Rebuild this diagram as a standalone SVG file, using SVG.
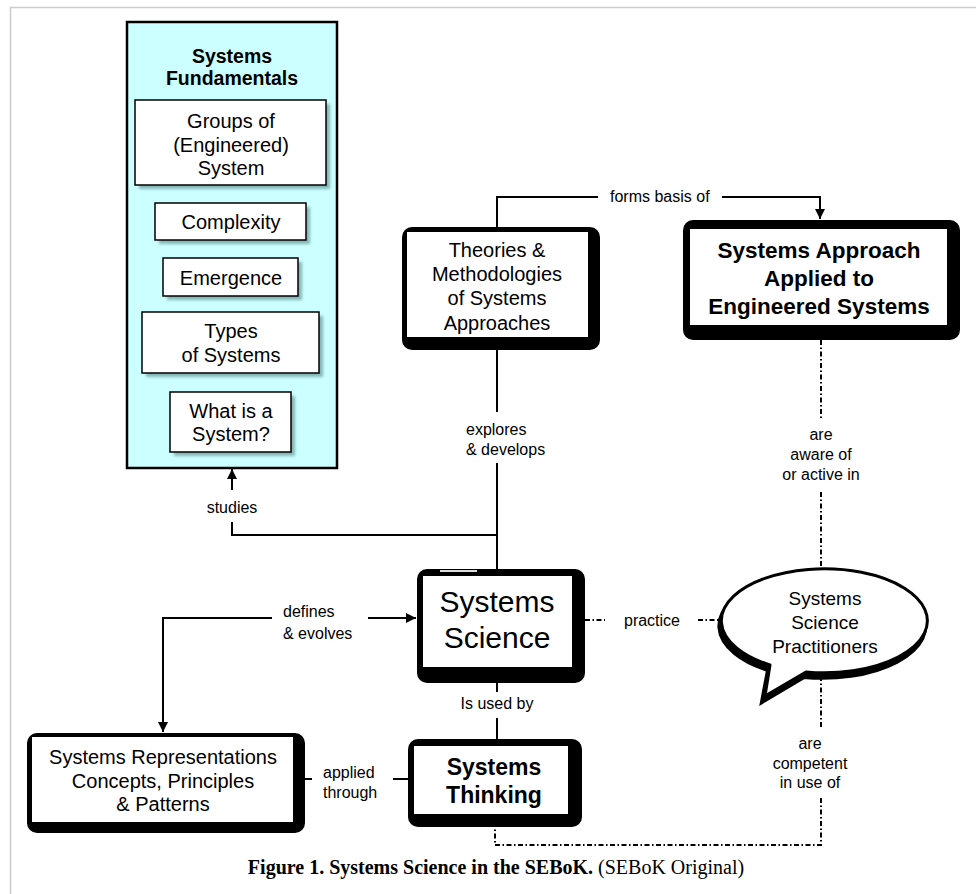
<svg xmlns="http://www.w3.org/2000/svg" width="976" height="894" viewBox="0 0 976 894">
<style>
text{font-family:"Liberation Sans",Arial,sans-serif;fill:#000}
.t19{font-size:20px;text-anchor:middle}
.t18{font-size:19px;text-anchor:middle}
.b{font-weight:bold}
.lab{font-size:16px}
.mid{text-anchor:middle}
.ln{fill:none;stroke:#000;stroke-width:2}
.dd{fill:none;stroke:#000;stroke-width:2;stroke-dasharray:5 2.5 1.5 2.5}
.sub{fill:#fff;stroke:#000;stroke-width:1.5}
.shd{fill:#5f8f90;opacity:0.65}
.cap{font-family:"Liberation Serif","Times New Roman",serif;font-size:20px}
</style>
<defs>
<marker id="ah" viewBox="0 0 10 10" refX="10" refY="5" markerWidth="5" markerHeight="5" orient="auto" markerUnits="strokeWidth">
<path d="M0,0 L10,5 L0,10 Z" fill="#000"/>
</marker>
<filter id="sh" x="-10%" y="-10%" width="130%" height="140%">
<feGaussianBlur stdDeviation="1.5"/>
</filter>
</defs>
<rect width="976" height="894" fill="#fff"/>
<path d="M10.5,894 V7.5 H976" fill="none" stroke="#ccc" stroke-width="1.5"/>

<g id="systems-fundamentals">
<rect x="127" y="22" width="210" height="446" fill="#ccffff" stroke="#000" stroke-width="2.5"/>
<text class="b mid" style="font-size:19.5px" x="232" y="63">Systems</text>
<text class="b mid" style="font-size:19.5px" x="232" y="85">Fundamentals</text>
</g>
<g id="groups">
<rect class="shd" x="139" y="104" width="191" height="85" filter="url(#sh)"/>
<rect class="sub" x="135" y="100" width="191" height="85"/>
<text class="t19" x="231" y="128">Groups of</text>
<text class="t19" x="231" y="152">(Engineered)</text>
<text class="t19" x="231" y="175">System</text>
</g>
<g id="complexity">
<rect class="shd" x="159" y="207" width="151" height="37" filter="url(#sh)"/>
<rect class="sub" x="155" y="203" width="151" height="37"/>
<text class="t19" x="231" y="229">Complexity</text>
</g>
<g id="emergence">
<rect class="shd" x="167" y="262" width="135" height="38" filter="url(#sh)"/>
<rect class="sub" x="163" y="258" width="135" height="38"/>
<text class="t19" x="231" y="285">Emergence</text>
</g>
<g id="types">
<rect class="shd" x="146" y="316" width="177" height="61" filter="url(#sh)"/>
<rect class="sub" x="142" y="312" width="177" height="61"/>
<text class="t19" x="231" y="338">Types</text>
<text class="t19" x="231" y="362">of Systems</text>
</g>
<g id="what-is">
<rect class="shd" x="174" y="396" width="121" height="60" filter="url(#sh)"/>
<rect class="sub" x="170" y="392" width="121" height="60"/>
<text class="t19" x="231" y="418">What is a</text>
<text class="t19" x="231" y="441">System?</text>
</g>

<g id="theories">
<rect x="402" y="227" width="198" height="123" rx="10" fill="#000"/>
<rect x="407" y="232" width="181" height="105" fill="#fff"/>
<text class="t19" x="497" y="257">Theories &amp;</text>
<text class="t19" x="497" y="281">Methodologies</text>
<text class="t19" x="497" y="305">of Systems</text>
<text class="t19" x="497" y="330">Approaches</text>
</g>

<g id="systems-approach">
<rect x="683" y="220" width="277" height="120" rx="10" fill="#000"/>
<rect x="690" y="229" width="257" height="96" fill="#fff"/>
<text class="b mid" style="font-size:22.5px" x="819" y="258">Systems Approach</text>
<text class="b mid" style="font-size:22.5px" x="819" y="286">Applied to</text>
<text class="b mid" style="font-size:22.5px" x="819" y="314">Engineered Systems</text>
</g>

<g id="systems-science">
<rect x="417" y="569" width="168" height="114" rx="10" fill="#000"/>
<rect x="423" y="576" width="149" height="91" fill="#fff"/>
<line x1="440" y1="571" x2="477" y2="571" stroke="#ddd" stroke-width="2"/>
<text class="mid" style="font-size:30px" x="497" y="612">Systems</text>
<text class="mid" style="font-size:30px" x="497" y="648">Science</text>
</g>

<g id="practitioners">
<path d="M806,675 A103,52 0 1 0 770,668 L764,700 Z" fill="#000" stroke="#000" stroke-width="4" transform="translate(-2,2)"/>
<path d="M806,672 A103,52 0 1 0 770,665 L765,696 Z" fill="#fff" stroke="#000" stroke-width="3" stroke-linejoin="round"/>
<text class="t18" x="825" y="605">Systems</text>
<text class="t18" x="825" y="629">Science</text>
<text class="t18" x="825" y="653">Practitioners</text>
</g>

<g id="systems-thinking">
<rect x="408" y="739" width="174" height="88" rx="10" fill="#000"/>
<rect x="414" y="746" width="154" height="68" fill="#fff"/>
<text class="b mid" style="font-size:23px" x="494" y="775">Systems</text>
<text class="b mid" style="font-size:23px" x="494" y="803">Thinking</text>
</g>

<g id="systems-representations">
<rect x="27" y="733" width="278" height="100" rx="10" fill="#000"/>
<rect x="32" y="737" width="261" height="85" fill="#fff"/>
<text class="t19" x="163" y="764">Systems Representations</text>
<text class="t19" x="163" y="788">Concepts, Principles</text>
<text class="t19" x="163" y="811">&amp; Patterns</text>
</g>

<g id="connectors">
<path class="ln" d="M497,227 V197 H598"/>
<path class="ln" d="M722,197 H820 V219" marker-end="url(#ah)"/>
<text class="lab" x="610" y="202">forms basis of</text>

<path class="ln" d="M497,350 V412"/>
<path class="ln" d="M497,463 V569"/>
<text class="lab" x="466" y="435">explores</text>
<text class="lab" x="466" y="455">&amp; develops</text>

<path class="ln" d="M232,490 V469" marker-end="url(#ah)"/>
<path class="ln" d="M232,522 V535 H497"/>
<text class="lab mid" x="232" y="513">studies</text>

<path class="ln" d="M272,618 H163 V732" marker-end="url(#ah)"/>
<path class="ln" d="M368,618 H416" marker-end="url(#ah)"/>
<text class="lab" x="283" y="617">defines</text>
<text class="lab" x="283" y="639">&amp; evolves</text>

<path class="ln" d="M497,683 V692"/>
<path class="ln" d="M497,718 V739"/>
<text class="lab mid" x="497" y="709">Is used by</text>

<path class="ln" d="M305,779 H312"/>
<path class="ln" d="M393,779 H408"/>
<text class="lab" x="323" y="778">applied</text>
<text class="lab" x="323" y="798">through</text>

<path class="dd" d="M585,620 H605"/>
<path class="dd" d="M698,620 H722"/>
<text class="lab mid" x="652" y="626">practice</text>

<path class="dd" d="M821,340 V418"/>
<path class="dd" d="M821,492 V569"/>
<text class="lab mid" x="821" y="440">are</text>
<text class="lab mid" x="821" y="460">aware of</text>
<text class="lab mid" x="821" y="480">or active in</text>

<path class="dd" d="M821,676 V728"/>
<path class="dd" d="M821,798 V845 H495 V828"/>
<text class="lab mid" x="810" y="749">are</text>
<text class="lab mid" x="810" y="769">competent</text>
<text class="lab mid" x="810" y="788">in use of</text>
</g>

<text class="cap mid" x="496" y="874"><tspan font-weight="bold">Figure 1. Systems Science in the SEBoK.</tspan> (SEBoK Original)</text>
</svg>
